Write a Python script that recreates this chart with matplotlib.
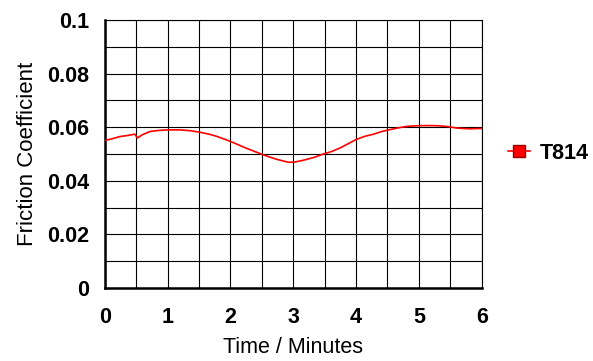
import matplotlib
matplotlib.use("Agg")
import matplotlib.pyplot as plt
from matplotlib.lines import Line2D

# values
time_min = [0.0, 0.12, 0.24, 0.36, 0.48, 0.52, 0.6, 0.72, 0.86, 1.01, 1.2, 1.36, 1.52,
            1.66, 1.78, 1.9, 2.02, 2.14, 2.26, 2.38, 2.5, 2.62, 2.74, 2.84, 2.93,
            3.02, 3.11, 3.2, 3.34, 3.48, 3.62, 3.75, 3.88, 4.01, 4.14, 4.28, 4.41,
            4.54, 4.68, 4.81, 4.94, 5.07, 5.2, 5.34, 5.47, 5.6, 5.72, 5.82, 5.91, 6.0]
friction = [0.0550, 0.0557, 0.0565, 0.0569, 0.0574, 0.0560, 0.0572, 0.0584, 0.0588, 0.0590,
            0.0590, 0.0587, 0.0581, 0.0574, 0.0566, 0.0556, 0.0545, 0.0533, 0.0521, 0.0510,
            0.0499, 0.0489, 0.0480, 0.0474, 0.0469, 0.0470, 0.0474, 0.0479, 0.0488, 0.0500,
            0.0510, 0.0523, 0.0539, 0.0555, 0.0566, 0.0574, 0.0584, 0.0591, 0.0598, 0.0603,
            0.0605, 0.0606, 0.0606, 0.0605, 0.0602, 0.0597, 0.0595, 0.0594, 0.0595, 0.0595]
series_name = "T814"
x_ticks = [0, 1, 2, 3, 4, 5, 6]
y_ticks = [0, 0.02, 0.04, 0.06, 0.08, 0.1]
y_tick_labels = ["0", "0.02", "0.04", "0.06", "0.08", "0.1"]

plt.rcParams["font.family"] = ["Liberation Sans", "DejaVu Sans"]

fig = plt.figure(figsize=(5.93, 3.61), dpi=100)
ax = fig.add_axes([0.1766, 0.2022, 0.6357, 0.7424])

ax.plot(time_min, friction, color="#ff0000", linewidth=1.2, zorder=3)

ax.set_xlim(0, 6)
ax.set_ylim(0, 0.1)
ax.set_xticks(x_ticks)
ax.set_xticks([i * 0.5 for i in range(13)], minor=True)
ax.set_yticks(y_ticks)
ax.set_yticklabels(y_tick_labels)
ax.set_yticks([i * 0.01 for i in range(11)], minor=True)
ax.grid(True, which="both", color="black", linewidth=0.8)
ax.tick_params(which="both", length=0)
ax.tick_params(axis="x", pad=14)
ax.tick_params(axis="y", pad=11)
for lbl in ax.get_xticklabels() + ax.get_yticklabels():
    lbl.set_fontweight("bold")
    lbl.set_fontsize(15.5)

for side in ["left", "bottom"]:
    ax.spines[side].set_linewidth(1.8)
for side in ["top", "right"]:
    ax.spines[side].set_linewidth(0.8)

ax.set_xlabel("Time / Minutes", fontsize=15.5, labelpad=6)
ax.set_ylabel("Friction Coefficient", fontsize=16, labelpad=7)

handle = Line2D([], [], color="#ff0000", linewidth=1.2, marker="s", markersize=8.5,
                markerfacecolor="#ff0000", markeredgecolor="#990000")
fig.legend([handle], [series_name], loc="center left", bbox_to_anchor=(0.8567, 0.5753),
           frameon=False, handlelength=1.0, handletextpad=0.47, borderpad=0,
           borderaxespad=0, prop={"weight": "bold", "size": 15.5})

fig.savefig("out.png", dpi=100)
